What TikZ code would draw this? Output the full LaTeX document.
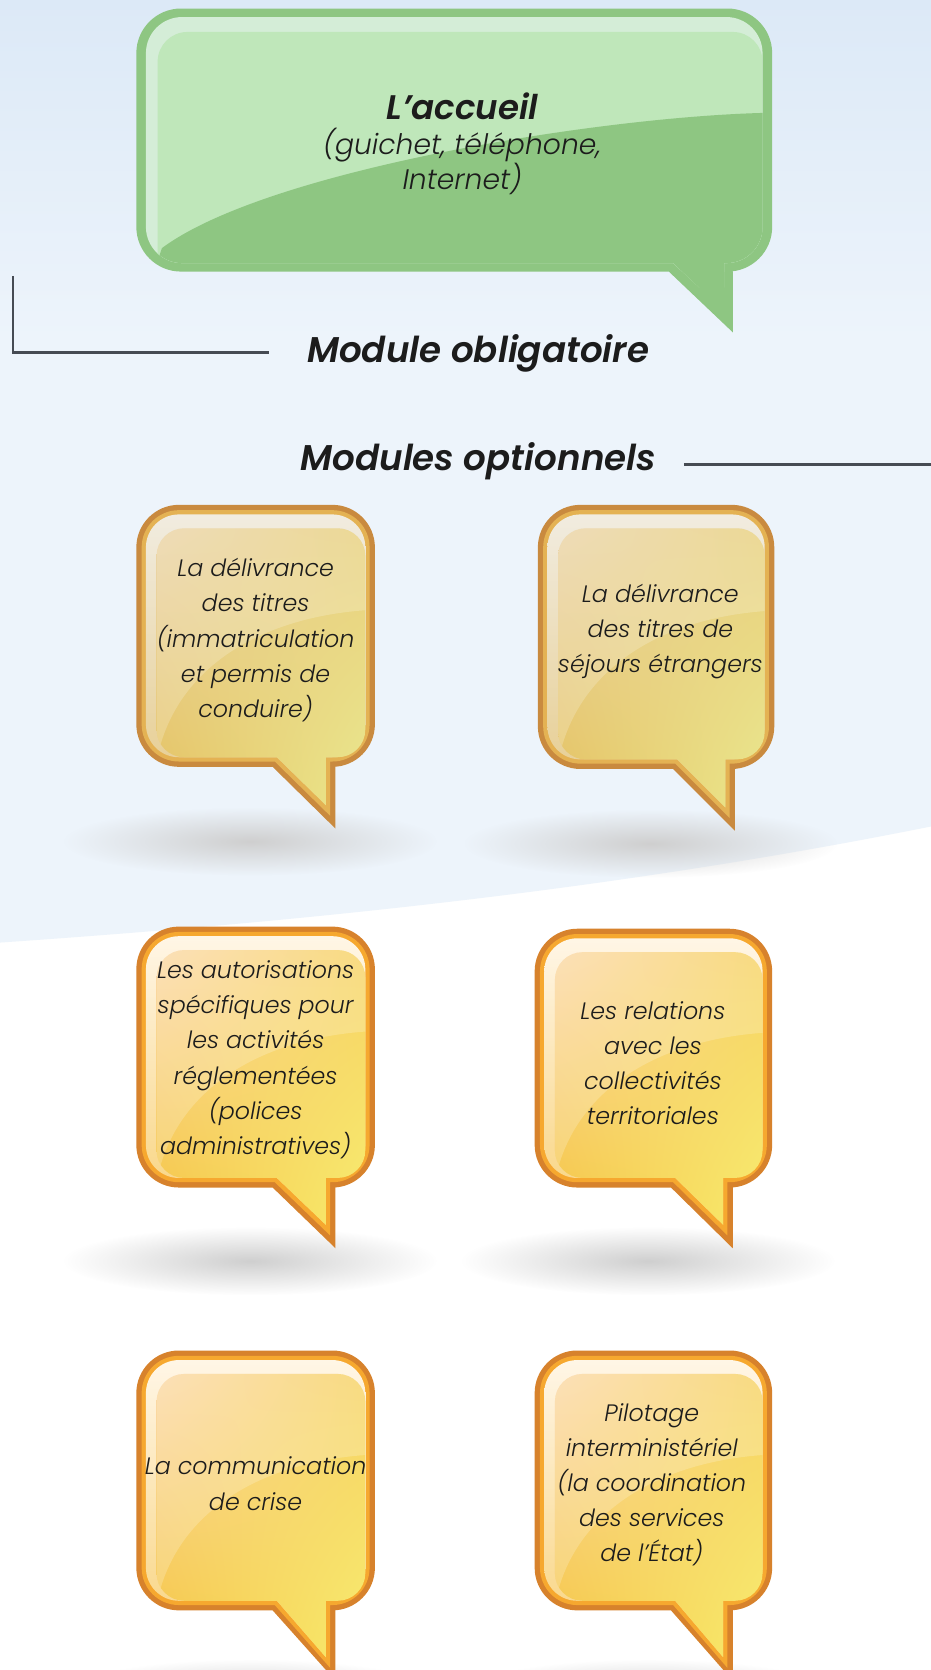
\documentclass[tikz,border=0pt]{standalone}
\usepackage{fontspec}
\newfontfamily\fontbulle{Poppins Light Italic}
\newfontfamily\fonttitre{Poppins SemiBold Italic}
\usetikzlibrary{fadings,shadings}

\definecolor{fondhaut}{HTML}{DCE9F7}
\definecolor{fondbleu}{HTML}{EDF4FB}
\definecolor{trait}{HTML}{464B53}
\definecolor{encre}{HTML}{1C1C1C}
\definecolor{vertfonce}{HTML}{8EC682}
\definecolor{vertclair}{HTML}{BFE7BA}
\definecolor{vertreflet}{HTML}{D4EDD7}
\definecolor{Abord}{HTML}{C98A3F}
\definecolor{Aanneau}{HTML}{E4B253}
\definecolor{Aclair}{HTML}{F1ECE0}
\definecolor{Aclairbas}{HTML}{E6CB8A}
\definecolor{Ahg}{HTML}{EAD3A6}
\definecolor{Ahd}{HTML}{E8CF7C}
\definecolor{Abg}{HTML}{E5C35E}
\definecolor{Abd}{HTML}{EAE88F}
\definecolor{Bbord}{HTML}{D7822C}
\definecolor{Banneau}{HTML}{F6A82F}
\definecolor{Bclair}{HTML}{FFF6E6}
\definecolor{Bclairbas}{HTML}{F8D27A}
\definecolor{Bhg}{HTML}{FBD8A6}
\definecolor{Bhd}{HTML}{F7D262}
\definecolor{Bbg}{HTML}{F5C640}
\definecolor{Bbd}{HTML}{F7EC70}

\tikzfading[name=ombre, inner color=transparent!0, outer color=transparent!100]

% x1 y1 x2 y2 debut-queue x-queue pointe rayon
\newcommand{\formebulle}[8]{({#5},{#4}) -- ({#1+#8},{#4})
  arc[start angle=90,end angle=180,radius=#8] -- ({#1},{#2+#8})
  arc[start angle=180,end angle=270,radius=#8] -- ({#3-#8},{#2})
  arc[start angle=270,end angle=360,radius=#8] -- ({#3},{#4-#8})
  arc[start angle=0,end angle=90,radius=#8] -- ({#6},{#4})
  -- ({#6},{#7}) -- cycle}

\newcommand{\bulle}[8]{%
  \fill[black!19, path fading=ombre] ({(#1+#3)/2-5},{#7+12}) ellipse[x radius=175, y radius=32];
  \fill[#8bord] \formebulle{#1}{#2}{#3}{#4}{#5}{#6}{#7}{40};
  \fill[#8anneau] \formebulle{#1+5}{#2+5}{#3-5}{#4-5}{#5+2}{#6-5}{#7-12}{35};
  \shade[top color=#8clair, bottom color=#8clairbas] \formebulle{#1+9}{#2+9}{#3-9}{#4-9}{#5+4}{#6-9}{#7-22}{31};
  \shade[upper left=#8hg, upper right=#8hd, lower left=#8bg, lower right=#8bd] \formebulle{#1+19}{#2+22}{#3-9}{#4-9}{#5+4}{#6-9}{#7-22}{26};
  \begin{scope}
    \clip \formebulle{#1+19}{#2+22}{#3-9}{#4-9}{#5+4}{#6-9}{#7-22}{26};
    \fill[white, opacity=.2] (#3,#2) -- (#3,{#2+0.4*(#4-#2)})
      .. controls ({#1+0.55*(#3-#1)},{#2+0.42*(#4-#2)}) and ({#1+0.2*(#3-#1)},{#2+0.6*(#4-#2)})
      .. ({#1+0.1*(#3-#1)},{#2+0.92*(#4-#2)}) -- (#1,#4) -- (#1,#2) -- cycle;
  \end{scope}}

\begin{document}
\begin{tikzpicture}[x=1pt, y=-1pt,
    texte/.style={font={\fontbulle\fontsize{22.3}{33}\selectfont}, text=encre, align=center, inner sep=0pt},
    titre/.style={font={\fonttitre\fontsize{33.5}{40}\selectfont}, text=encre, inner sep=0pt},
    ligne/.style={draw=trait, line width=2.2pt}]

    \useasboundingbox (0,0) rectangle (874,1568);
    \clip (0,0) rectangle (874,1568);

    % fond
    \fill[white] (0,0) rectangle (874,1568);
    \fill[fondbleu] (0,0) -- (874,0) -- (874,776) .. controls (580,835) and (290,865) .. (0,885) -- cycle;
    \shade[top color=fondhaut, bottom color=fondbleu] (0,0) rectangle (874,320);

    % bulle verte
    \fill[vertfonce] \formebulle{128}{8}{725}{255}{628}{688}{312}{42};
    \begin{scope}
        \clip \formebulle{137}{16}{716}{247}{632}{680}{292}{34};
        \fill[vertreflet] (128,8) rectangle (725,255);
        \fill[vertclair, rounded corners=28] (148,30) rectangle (716,270);
        \fill[vertfonce] (717,106) .. controls (560,110) and (250,160) .. (152,233) -- (140,270) -- (740,330) -- (740,106) -- cycle;
    \end{scope}
    \node[texte, font={\fontbulle\fontsize{26.5}{33}\selectfont}] (accueil) at (434,135)
        {{\fonttitre\fontsize{32}{34}\selectfont L’accueil}\\(guichet, téléphone,\\Internet)};

    \node[titre] (oblig) at (449,332) {Module obligatoire};
    \node[titre] (option) at (449,433) {Modules optionnels};
    \coordinate (coin) at (12,259);
    \coordinate (finoblig) at (253,331);
    \draw[ligne] (coin) |- (finoblig);
    \coordinate (debopt) at (642,436);
    \coordinate (finopt) at (874,436);
    \draw[ligne] (debopt) -- (finopt);

    % bulles orange
    \bulle{128}{474}{352}{720}{256}{315}{778}{A}
    \bulle{505}{474}{727}{722}{632}{690}{780}{A}
    \bulle{128}{870}{352}{1115}{256}{315}{1172}{B}
    \bulle{502}{872}{725}{1115}{630}{688}{1172}{B}
    \bulle{128}{1268}{352}{1512}{256}{315}{1578}{B}
    \bulle{502}{1268}{725}{1512}{630}{688}{1578}{B}

    \node[texte] (titres) at (240,601) {La délivrance\\des titres\\(immatriculation\\et permis de\\conduire)};
    \node[texte] (sejours) at (620,593) {La délivrance\\des titres de\\séjours étrangers};
    \node[texte] (autorisations) at (240,995) {Les autorisations\\spécifiques pour\\les activités\\réglementées\\(polices\\administratives)};
    \node[texte] (relations) at (613,998) {Les relations\\avec les\\collectivités\\territoriales};
    \node[texte] (crise) at (240,1393) {La communication\\de crise};
    \node[texte] (pilotage) at (612,1394) {Pilotage\\interministériel\\(la coordination\\des services\\de l’État)};
\end{tikzpicture}
\end{document}
